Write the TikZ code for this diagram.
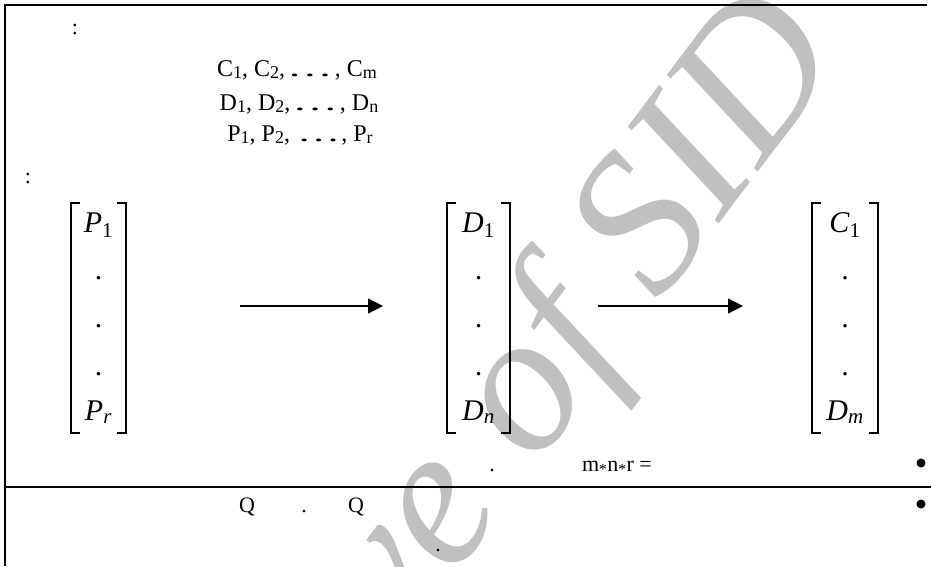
\documentclass[tikz,border=0pt]{standalone}
\usepackage{fontspec}
\setmainfont{Liberation Serif}
\usetikzlibrary{arrows.meta}
\definecolor{wmgray}{RGB}{192,192,192}
\newcommand\lsub[1]{\raisebox{-2.5pt}{\fontsize{18}{18}\selectfont #1}}
\newcommand\wdots[2]{\hspace{#1}\scalebox{#2}[1]{…}\hspace{#1}}
\begin{document}
\begin{tikzpicture}[x=1pt,y=-1pt,
  frame/.style={line width=2.2pt},
  brk/.style={line width=1.2pt},
  arr/.style={line width=1.3pt,-{Triangle[length=15pt,width=15pt]}},
  txt/.style={inner sep=0pt,anchor=base,font=\fontsize{22}{26}\selectfont},
  lst/.style={inner sep=0pt,anchor=base,font=\fontsize{24}{28}\selectfont},
  ent/.style={inner sep=0pt,anchor=base,font=\fontsize{30}{34}\selectfont},
  wm/.style={inner sep=0pt,anchor=base east,rotate=53,text=wmgray,
    font=\fontsize{200}{200}\selectfont\itshape},
  bul/.style={circle,fill=black,inner sep=0pt,minimum size=9pt}]
\useasboundingbox (0,0) rectangle (931,566);
\clip (0,0) rectangle (931,566);
% watermark
\node[wm] (wmark) at (847,55) {Archive of SID};
% frame
\draw[frame] (5.2,566) -- (5.2,5.3) -- (927,5.3);
\draw[frame] (5.2,487.3) -- (931,487.3);
% header texts
\node[txt] (col1) at (75,34) {:};
\node[lst] (lc) at (297,76) {C\lsub{1}, C\lsub{2},\wdots{2pt}{1.9}, C\lsub{m}};
\node[lst] (ld) at (299,110) {D\lsub{1}, D\lsub{2},\wdots{2pt}{1.9}, D\lsub{n}};
\node[lst] (lp) at (300,141) {P\lsub{1}, P\lsub{2}, \wdots{1pt}{1.8}, P\lsub{r}};
\node[txt] (col2) at (28,183) {:};
% matrix P
\draw[brk] (80,203) -- (71,203) -- (71,433) -- (80,433);
\draw[brk] (117,203) -- (126,203) -- (126,433) -- (117,433);
\node[ent] (p1) at (98.5,232) {\textit{P}\textsubscript{1}};
\node[ent] (pd1) at (98.5,279) {.};
\node[ent] (pd2) at (98.5,327) {.};
\node[ent] (pd3) at (98.5,375) {.};
\node[ent] (pr) at (98.5,420) {\textit{P}\textsubscript{\textit{r}}};
% matrix D
\draw[brk] (456,203) -- (447,203) -- (447,433) -- (456,433);
\draw[brk] (501,203) -- (510,203) -- (510,433) -- (501,433);
\node[ent] (d1) at (478.5,232) {\textit{D}\textsubscript{1}};
\node[ent] (dd1) at (478.5,279) {.};
\node[ent] (dd2) at (478.5,327) {.};
\node[ent] (dd3) at (478.5,375) {.};
\node[ent] (dn) at (478.5,420) {\textit{D}\textsubscript{\textit{n}}};
% matrix C
\draw[brk] (821,203) -- (812,203) -- (812,433) -- (821,433);
\draw[brk] (869,203) -- (878,203) -- (878,433) -- (869,433);
\node[ent] (c1) at (845,232) {\textit{C}\textsubscript{1}};
\node[ent] (cd1) at (845,279) {.};
\node[ent] (cd2) at (845,327) {.};
\node[ent] (cd3) at (845,375) {.};
\node[ent] (dm) at (845,420) {\textit{D}\textsubscript{\textit{m}}};
% arrows
\coordinate (a1s) at (240,306);
\coordinate (a1e) at (383,306);
\coordinate (a2s) at (598,306);
\coordinate (a2e) at (743,306);
\draw[arr] (a1s) -- (a1e);
\draw[arr] (a2s) -- (a2e);
% lower texts
\node[txt] (dot1) at (492,471) {.};
\node[txt] (mnr) at (617,471) {m\textsubscript{*}n\textsubscript{*}r =};
\node[bul] (b1) at (921,463) {};
\node[txt] (q1) at (247,512) {Q};
\node[txt] (dot2) at (304,512) {.};
\node[txt] (q2) at (356,512) {Q};
\node[bul] (b2) at (921,504) {};
\node[txt] (dot3) at (438,551) {.};
\end{tikzpicture}
\end{document}
